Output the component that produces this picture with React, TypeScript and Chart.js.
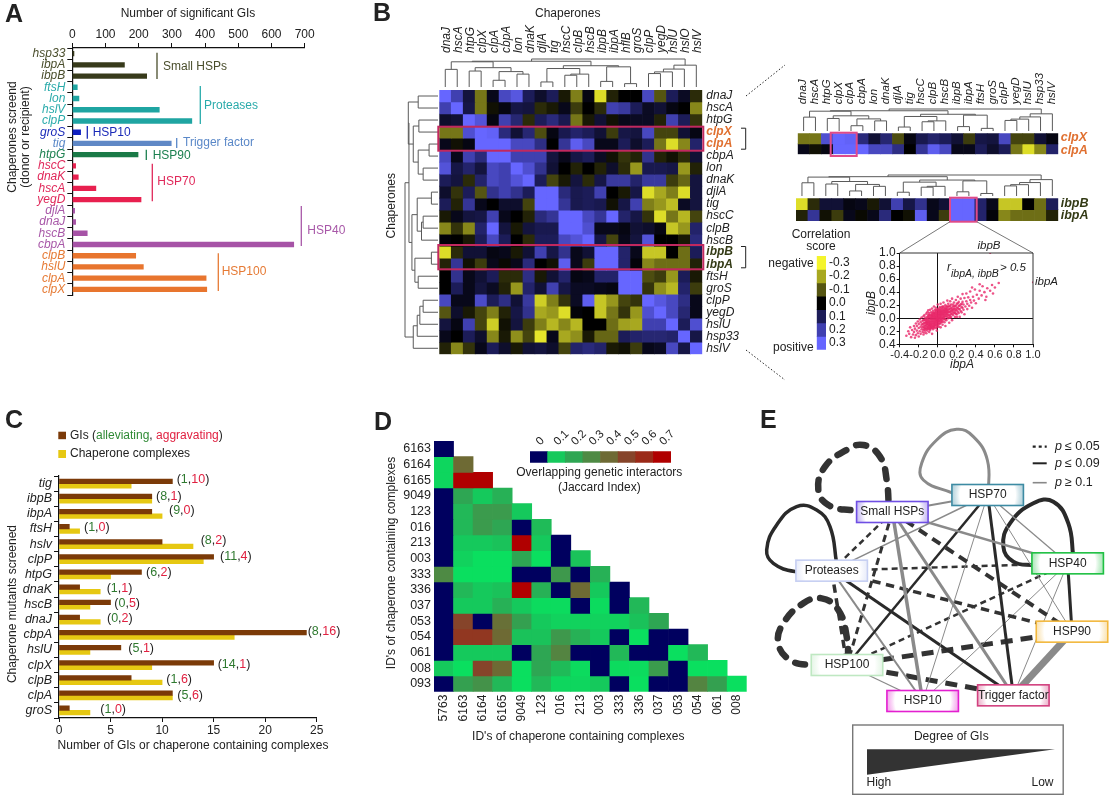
import { useEffect, useRef } from "react";
import { Chart, registerables } from "chart.js";

Chart.register(...registerables);

const SANS = '"Liberation Sans", Arial, sans-serif';
const INK = "#222222";
Chart.defaults.font.family = SANS;
Chart.defaults.color = INK;

/* ---------- Panel A ---------- */
const aGenes = ["hsp33","ibpA","ibpB","ftsH","lon","hslV","clpP","groS","tig","htpG","hscC","dnaK","hscA","yegD","djlA","dnaJ","hscB","cbpA","clpB","hslU","clpA","clpX"];
const aCounts = [5,157,224,15,20,262,360,25,298,198,10,18,71,207,7,10,45,667,191,214,403,405];
const aGeneFamily = [0,0,0,1,1,1,1,2,3,4,5,5,5,5,6,6,6,6,7,7,7,7];
const familyNames = ["Small HSPs","Proteases","HSP10","Trigger factor","HSP90","HSP70","HSP40","HSP100"];
const familyBars = ["#373a1b","#1fa5a2","#0f20c0","#5f88c6","#1a7a47","#e8204f","#a653a6","#e8752e"];
const familyTexts = ["#4a4e2c","#2aabab","#1a2ab8","#5a88c8","#1c8050","#e0285a","#a858a8","#e67a34"];

/* ---------- Panel B ---------- */
const bColLabels = ["dnaJ","hscA","htpG","clpX","clpA","cbpA","lon","dnaK","djlA","tig","hscC","clpB","hscB","ibpB","ibpA","hflB","groS","clpP","yegD","hslU","hslO","hslV"];
const bRowLabels = ["dnaJ","hscA","htpG","clpX","clpA","cbpA","lon","dnaK","djlA","tig","hscC","clpB","hscB","ibpB","ibpA","ftsH","groS","clpP","yegD","hslU","hsp33","hslV"];
const rDnaJ = [.3,.2,.07,-.14,.03,.22,.26,.1,.05,.1,-.03,-.15,.02,-.27,-.04,0,0,.22,-.1,.1,.04,-.05];
const rHscA = [.2,.3,.08,-.14,-.02,.02,.08,.07,-.05,-.03,.03,-.07,0,-.05,.2,.18,.1,.04,.06,.02,0,-.16];
const rHtpG = [.05,.06,.3,.25,.02,.2,.13,-.05,.1,.14,.09,-.14,-.03,.06,-.02,.03,.04,.04,-.04,.2,.1,-.06];
const rClpX = [-.14,-.14,.24,.3,.29,.14,.06,.13,-.09,.02,.09,.12,.1,.06,-.07,.08,.07,.22,-.08,-.08,.06,.02];
const rClpA = [.03,-.02,.02,.3,.3,.3,.22,.22,.15,0,.17,.28,.22,.03,.03,.1,.05,.1,-.14,-.27,-.16,.12];
const rCbpA = [.22,.03,.2,.14,.3,.3,.2,.2,.2,.07,.03,.08,.1,.04,-.02,-.06,-.04,.16,-.04,-.02,-.05,.06];
const rLon = [.25,.08,.12,.07,.22,.2,.3,.24,.16,.06,0,-.04,0,-.04,.05,-.05,-.18,.09,.09,.08,-.18,-.04];
const rDnaK = [.1,.07,-.05,.12,.22,.2,.25,.3,.1,-.08,-.03,.07,-.05,.08,.18,.18,.12,.18,.18,-.07,-.12,.07];
const rDjlA = [.05,-.06,.1,-.1,.16,.2,.16,.1,.3,.3,.14,.09,.1,.2,0,-.03,.08,-.27,-.2,-.15,-.27,.07];
const rTig = [.1,-.04,.17,.03,0,.05,.05,-.08,.3,.3,.17,.09,.1,.09,-.02,.08,.2,-.15,-.18,-.23,.04,.07];
const rHscC = [-.03,.03,.07,.08,.2,.03,0,-.04,.14,.17,.3,.3,.22,.17,.3,.12,.08,-.06,-.27,-.14,-.22,-.08];
const rClpB = [-.16,-.06,-.16,.12,.3,.07,-.03,.07,.09,.09,.3,.3,.24,.03,.03,.02,.06,.05,.02,-.24,-.18,.12];
const rHscB = [.01,0,-.03,.1,.22,.1,0,-.05,.1,.1,.22,.25,.3,.08,-.08,.03,.07,.25,0,0,-.03,.14];
const rIbpB = [-.27,-.05,.06,.06,.02,.03,-.03,.06,.2,.08,.16,.03,.06,.3,.3,.12,.03,-.24,-.24,0,-.13,.1];
const rIbpA = [-.04,.17,-.02,-.07,.03,-.01,.03,.14,0,-.02,.28,.03,-.07,.3,.3,.12,.01,-.16,-.13,-.13,-.13,-.04];
const rFtsH = [0,.16,.03,.06,.1,-.05,-.05,.15,-.03,.06,.12,.02,.03,.12,.12,.3,.3,-.09,-.07,-.18,.1,-.03];
const rGroS = [0,.1,.03,.07,.04,-.04,-.18,.12,.06,.2,.08,.04,.04,.03,.02,.3,.3,-.06,-.17,-.22,.12,-.07];
const rClpP = [.22,.03,.03,.23,.1,.15,.06,.18,-.25,-.15,-.06,.04,.28,-.24,-.18,-.08,-.06,.3,.26,.22,.15,.03];
const rYegD = [-.1,.05,-.03,-.08,-.15,-.04,.08,.16,-.2,-.18,-.27,.01,0,-.24,-.14,-.06,-.18,.24,.3,.22,.13,.03];
const rHslU = [.07,.02,.2,-.08,-.25,-.02,.07,-.07,-.15,-.22,-.16,-.22,0,0,-.13,-.19,-.2,.2,.2,.3,.1,.24];
const rHsp33 = [.03,0,.1,.05,-.16,-.03,-.17,-.08,-.28,.03,-.2,-.17,-.03,-.12,-.12,.1,.12,.13,.13,.12,.3,.08];
const rHslV = [-.04,-.16,-.06,.03,.1,.05,-.03,.06,.07,.05,-.08,.12,.14,.12,-.03,-.02,-.07,.03,.04,.22,.08,.3];
const bMatrix = [rDnaJ,rHscA,rHtpG,rClpX,rClpA,rCbpA,rLon,rDnaK,rDjlA,rTig,rHscC,rClpB,rHscB,rIbpB,rIbpA,rFtsH,rGroS,rClpP,rYegD,rHslU,rHsp33,rHslV];
const stripColLabels = bRowLabels;
const corrTicks = [-.3,-.2,-.1,0,.1,.2,.3];

/* merges: [child, child, height]; leaves are 0..21, each merge adds the next id */
const colTree = [[0,1,.63],[2,3,.57],[4,5,.24],[6,7,.46],[24,25,.55],[23,26,.69],[8,9,.18],[10,11,.42],[29,12,.46],[28,30,.66],[13,14,.2],[15,16,.12],[32,33,.72],[31,34,.76],[17,18,.48],[36,19,.54],[37,20,.64],[38,21,.78],[22,27,.9],[40,35,.92],[41,39,1]];
const rowTree = [[0,1,.6],[2,3,.58],[4,5,.27],[6,7,.45],[24,25,.6],[23,26,.75],[22,27,.9],[8,9,.2],[10,11,.45],[30,12,.5],[29,31,.63],[13,14,.2],[15,16,.6],[33,34,.7],[32,35,.79],[17,18,.45],[37,19,.55],[38,20,.63],[39,21,.75],[28,36,.88],[41,40,1]];

/* scatter of ibpA (x) against ibpB (y) */
const scatterCloud = [
[-.33,-.27],[-.31,-.2],[-.3,-.24],[-.28,-.29],[-.29,-.14],[-.27,-.18],[-.26,-.25],[-.25,-.12],[-.25,-.21],[-.24,-.3],[-.24,-.16],[-.23,-.08],[-.23,-.26],[-.22,-.19],[-.22,-.12],[-.21,-.23],[-.21,-.05],[-.2,-.15],[-.2,-.28],[-.2,-.09],
[-.19,-.2],[-.19,-.02],[-.18,-.24],[-.18,-.13],[-.18,-.06],[-.17,-.17],[-.17,.01],[-.17,-.1],[-.16,-.21],[-.16,-.04],[-.16,-.14],[-.15,-.25],[-.15,-.08],[-.15,.03],[-.15,-.18],[-.14,-.11],[-.14,-.22],[-.14,-.02],[-.14,.05],[-.14,-.15],
[-.13,-.07],[-.13,-.19],[-.13,.01],[-.13,-.12],[-.12,-.16],[-.12,-.04],[-.12,.07],[-.12,-.23],[-.12,-.09],[-.11,.02],[-.11,-.13],[-.11,-.06],[-.11,-.19],[-.11,.09],[-.1,-.01],[-.1,-.1],[-.1,-.16],[-.1,.05],[-.1,-.04],[-.1,.12],
[-.09,-.12],[-.09,-.07],[-.09,.02],[-.09,-.21],[-.09,.08],[-.08,-.14],[-.08,-.02],[-.08,-.09],[-.08,.05],[-.08,.13],[-.08,-.18],[-.07,-.05],[-.07,.01],[-.07,-.11],[-.07,.09],[-.07,-.15],[-.06,.03],[-.06,-.08],[-.06,-.02],[-.06,.15],
[-.06,-.24],[-.06,.07],[-.05,-.12],[-.05,-.05],[-.05,.01],[-.05,.11],[-.05,-.17],[-.04,-.08],[-.04,.04],[-.04,-.02],[-.04,.08],[-.04,.18],[-.04,-.13],[-.03,.01],[-.03,-.1],[-.03,.06],[-.03,-.05],[-.03,.13],[-.02,-.15],[-.02,-.02],
[-.02,.03],[-.02,.09],[-.02,-.07],[-.02,.16],[-.01,-.11],[-.01,.05],[-.01,0],[-.01,.12],[-.01,-.04],[-.01,-.19],[0,.02],[0,.08],[0,-.08],[0,-.03],[0,.14],[0,.21],[.01,-.13],[.01,.05],[.01,-.01],[.01,.1],
[.01,-.05],[.02,.17],[.02,.02],[.02,-.09],[.02,.07],[.02,.12],[.03,-.03],[.03,.04],[.03,.22],[.03,-.14],[.03,.09],[.04,.14],[.04,0],[.04,-.06],[.04,.06],[.04,.11],[.05,.18],[.05,.02],[.05,-.1],[.05,.08],
[.06,.13],[.06,-.02],[.06,.05],[.06,.24],[.07,.1],[.07,-.06],[.07,.16],[.07,.02],[.08,.07],[.08,.2],[.08,-.12],[.08,.12],[.09,.03],[.09,.15],[.09,.09],[.09,-.03],[.1,.27],[.1,.06],[.1,.18],[.1,.12],
[.11,0],[.11,.09],[.11,.22],[.12,.14],[.12,.04],[.12,-.07],[.12,.18],[.13,.1],[.13,.26],[.13,.01],[.14,.16],[.14,.07],[.14,.21],[.15,.12],[.15,-.03],[.15,.3],[.16,.18],[.16,.05],[.16,.1],[.17,.24],
[.17,.14],[.18,.02],[.18,.19],[.18,.08],[.19,.28],[.19,.13],[.2,.22],[.2,.06],[.2,.16],[.21,.33],[.21,.1],[.22,.19],[.22,.25],[.23,.02],[.23,.14],[.24,.3],[.24,.21],[.25,.09],[.25,.17],[.26,.37],
[.26,.25],[.27,.13],[.27,.21],[.28,.31],[.28,.06],[.29,.18],[.3,.26],[.3,.38],[.31,.14],[.31,.22],[.32,.32],[.33,.19],[.34,.28],[.34,.41],[.35,.24],[.36,.16],[.37,.33],[.38,.27],[.39,.44],[.4,.23],
[.41,.36],[.43,.3],[.44,.42],[.46,.35],[.47,.49],[.49,.4],[.51,.33],[.52,.46],[.55,.42],[.57,.51],[.6,.47],[.64,.54],[.44,.52],[.36,.47],[.5,.28],[.58,.38]
];
const scatterCore = [
[-.16,-.09],[-.15,-.13],[-.15,-.03],[-.14,-.07],[-.14,-.17],[-.13,-.03],[-.13,-.15],[-.12,-.11],[-.12,-.01],[-.12,-.06],[-.11,-.09],[-.11,-.16],[-.11,-.02],[-.1,-.07],[-.1,-.13],[-.1,.02],[-.09,-.04],[-.09,-.1],[-.09,-.16],[-.09,.05],
[-.08,-.06],[-.08,-.11],[-.08,.01],[-.08,-.16],[-.07,-.08],[-.07,-.02],[-.07,.04],[-.07,-.13],[-.06,-.05],[-.06,-.11],[-.06,.01],[-.06,.05],[-.06,-.15],[-.05,-.08],[-.05,-.02],[-.05,.04],[-.05,-.14],[-.05,.08],[-.04,-.05],[-.04,-.1],
[-.04,.01],[-.04,.06],[-.04,-.15],[-.03,-.07],[-.03,-.02],[-.03,.03],[-.03,.09],[-.03,-.12],[-.02,-.04],[-.02,.01],[-.02,.06],[-.02,-.1],[-.02,.12],[-.01,-.07],[-.01,-.02],[-.01,.03],[-.01,.08],[-.01,-.14],[0,0],[0,.05],
[0,-.05],[0,.11],[0,-.11],[.01,.02],[.01,.07],[.01,-.03],[.01,.13],[.01,-.08],[.02,0],[.02,.05],[.02,.1],[.02,-.05],[.02,.15],[.03,.02],[.03,.07],[.03,-.01],[.03,.12],[.03,-.07],[.04,.04],[.04,.09],
[.04,-.03],[.04,.17],[.05,.06],[.05,.11],[.05,0],[.05,.15],[.05,-.05],[.06,.08],[.06,.02],[.06,.11],[.06,.18],[.07,.05],[.07,.13],[.07,-.01],[.07,.08],[.08,.1],[.08,.03],[.08,.15],[.08,-.02],[.09,.12],
[.09,.06],[.09,.18],[.1,.09],[.1,.02],[.1,.15],[.11,.12],[.11,.05],[.11,.18],[.12,.09],[.12,.01],[.13,.14],[.13,.05],[.13,.19],[.14,.11],[.14,.02],[.15,.15],[.15,.07],[.16,.13],[.16,.21],[.17,.08],
[.17,.18],[.18,.11],[.18,.15],[.19,.07],[.19,.19],[.2,.12],[.2,.02],[.21,.16],[.21,.23],[.22,.08],[.22,.14],[.23,.19],[.24,.11],[.25,.22],[.26,.16]
];
const scatterOutliers = [[.55,1],[1,.55]];

/* ---------- Panel C ---------- */
const cGenes = ["tig","ibpB","ibpA","ftsH","hslv","clpP","htpG","dnaK","hscB","dnaJ","cbpA","hslU","clpX","clpB","clpA","groS"];
const cGIs = [11,9,9,1,10,15,8,2,5,2,24,6,15,7,11,1];
const cComplexes = [7,9,10,2,13,14,5,4,3,4,17,3,9,10,11,3];
const cAlleviating = [1,8,9,1,8,11,6,1,0,0,8,5,14,1,5,1];
const cAggravating = [10,1,0,0,2,4,2,1,5,2,16,1,1,6,6,0];

/* ---------- Panel D ---------- */
const dCols = ["5763","6163","6164","6165","9049","123","016","213","003","333","336","037","053","054","061","008"];
const dRows = ["6163","6164","6165","9049","123","016","213","003","333","336","037","053","054","061","008","093"];
const dTriangle = [
  [0],
  [.07,.4],
  [.07,.7,.7],
  [0,.2,.1,.17],
  [0,.15,.24,.24,.1],
  [0,.15,.24,.2,0,.14],
  [0,.1,.1,.12,.7,.1,0],
  [0,.08,.05,.05,.2,.05,0,.12],
  [.3,.05,.05,.05,0,0,.25,0,.17],
  [0,.15,.1,.12,.7,.17,0,.4,.1,0],
  [0,.1,.1,.17,.1,.06,.06,0,.06,0,.15],
  [0,.5,0,.38,.22,.1,.08,.08,.08,.08,.12,.2],
  [0,.55,.55,.4,.12,.12,.25,.17,.1,0,.05,0,0],
  [0,.1,.1,.1,0,.2,.32,0,0,.15,0,0,.05,.15],
  [.1,.05,.5,.4,.05,.2,.14,.06,0,.06,.06,.24,0,.05,.05],
  [0,.22,.27,.15,.05,.15,.07,.07,.1,0,.05,0,0,.32,.22,.05],
];
const jaccardTicks = [0,.1,.2,.3,.4,.5,.6,.7];

/* ---------- Panel E ---------- */
const eNodeNames = ["HSP70","Small HSPs","Proteases","HSP40","HSP90","HSP100","HSP10","Trigger factor"];
const eNodeX = [743,457,275,983,996,321,548,820];
const eNodeY = [255,306,482,460,665,765,873,856];
const eNodeEdge = ["#3d8ba3","#6f4fe3","#c6cff2","#1fc043","#f2b83e","#bfe8c2","#e31fd0","#d2417f"];
/* from, to, significance class (0: p<=.05, 1: p<=.09, 2: p>=.1), weight */
const eLinks = [
  [1,0,2,2],[1,2,0,2.5],[1,5,0,3],[1,6,2,3.5],[1,7,2,3],[1,4,0,4],[1,3,2,2.5],
  [0,2,2,1.5],[0,5,1,2.5],[0,6,2,1],[0,7,1,3],[0,3,2,1.3],[0,4,2,1],
  [2,3,0,2.5],[2,4,0,3.5],[2,5,0,3.5],[2,6,2,2],[2,7,1,3],
  [3,5,0,2.5],[3,4,1,3],[3,6,2,1],[3,7,2,1],
  [4,7,2,7],[4,5,0,5],[5,6,2,1.3],[5,7,0,5],
];
const eLoopSmall = [[457,306],[330,300],[265,285],[235,240],[255,170],[320,120],[370,105],[420,140],[440,210],[447,306]];
const eLoopHsp70 = [[745,255],[742,150],[700,80],[650,58],[590,90],[545,160],[550,210],[640,250]];
const eLoopProteases = [[275,490],[167,485],[100,460],[80,420],[110,345],[170,290],[230,300],[270,350],[290,460]];
const eLoopHsp40 = [[983,465],[876,465],[820,455],[790,410],[810,340],[880,280],[940,275],[985,340],[1000,440]];
const eLoopHsp100 = [[321,768],[213,765],[150,750],[115,700],[130,640],[190,580],[245,565],[295,600],[320,680],[325,765]];

/* ---------- colour helpers ---------- */
const hex = (h: string) => [1, 3, 5].map((i) => parseInt(h.slice(i, i + 2), 16));
function ramp(stops: [number, string][], v: number) {
  if (v <= stops[0][0]) return stops[0][1];
  for (let i = 1; i < stops.length; i++) {
    if (v <= stops[i][0]) {
      const [a, ca] = stops[i - 1];
      const [b, cb] = stops[i];
      const t = (v - a) / (b - a);
      const A = hex(ca), B = hex(cb);
      return `rgb(${A.map((c, k) => Math.round(c + (B[k] - c) * t)).join(",")})`;
    }
  }
  return stops[stops.length - 1][1];
}
const corrStops: [number, string][] = [[-.3,"#f4f42c"],[-.2,"#a8a820"],[-.1,"#555512"],[0,"#000000"],[.1,"#1c1c58"],[.2,"#4040b0"],[.3,"#6666ff"]];
const corrColor = (v: number) => ramp(corrStops, v);
const jacStops: [number, string][] = [[.05,"#0adf5f"],[.1,"#15c95c"],[.2,"#2ea653"],[.3,"#4e8a44"],[.4,"#6e6a34"],[.5,"#86442a"],[.6,"#9b2a18"],[.7,"#b00000"]];
const jacColor = (v: number) => (v === 0 ? "#00005f" : ramp(jacStops, v));

/* ---------- drawing helpers ---------- */
function txt(ctx: any, s: string, x: number, y: number, o: any = {}) {
  ctx.save();
  ctx.font = `${o.style || ""} ${o.weight || ""} ${o.size || 12}px ${SANS}`;
  ctx.fillStyle = o.color || INK;
  ctx.textAlign = o.align || "left";
  ctx.textBaseline = "middle";
  ctx.translate(x, y);
  if (o.rot) ctx.rotate(o.rot);
  ctx.fillText(s, 0, 0);
  ctx.restore();
}
function path(ctx: any, pts: number[][], color: string, w = 1, dash: number[] = []) {
  ctx.save();
  ctx.strokeStyle = color;
  ctx.lineWidth = w;
  ctx.setLineDash(dash);
  ctx.beginPath();
  pts.forEach((p, i) => (i ? ctx.lineTo(p[0], p[1]) : ctx.moveTo(p[0], p[1])));
  ctx.stroke();
  ctx.restore();
}
function dendro(ctx: any, merges: number[][], leaf: (i: number) => number, hgt: (h: number) => number, horizontalLeaves: boolean) {
  const pos: number[] = [];
  const hs: number[] = [];
  for (let i = 0; i < 22; i++) { pos[i] = leaf(i); hs[i] = 0; }
  merges.forEach((m, k) => {
    const [a, b, h] = m;
    const pts = [[pos[a], hgt(hs[a])], [pos[a], hgt(h)], [pos[b], hgt(h)], [pos[b], hgt(hs[b])]];
    path(ctx, horizontalLeaves ? pts : pts.map((p) => [p[1], p[0]]), "#5a5a5a", 1);
    pos[22 + k] = (pos[a] + pos[b]) / 2;
    hs[22 + k] = h;
  });
}
const letter = (ctx: any, s: string, x: number, y: number) => txt(ctx, s, x, y, { size: 25, weight: "bold", color: "#222" });
const PINK = "#c2285f";

const notes = (left: number, top: number, fn: (ctx: any, chart: any) => void) => ({
  id: "notes",
  afterDraw(chart: any) {
    const ctx = chart.ctx;
    ctx.save();
    ctx.translate(-left, -top);
    fn(ctx, chart);
    ctx.restore();
  },
});

const baseOptions = {
  responsive: false,
  animation: false,
  plugins: { legend: { display: false }, tooltip: { enabled: false } },
};

/* A heat map: each cell is a floating bar from row-0.5 to row+0.5 */
function heat(o: any) {
  const n = o.rows.length;
  const { l, t, r, b, w, h } = o.frame;
  return {
    type: "bar",
    data: {
      labels: o.cols,
      datasets: o.values.map((row: (number | null)[], ri: number) => ({
        label: o.rows[ri],
        data: o.cols.map((_: string, ci: number) => (row[ci] == null ? null : [ri - 0.5, ri + 0.5])),
        backgroundColor: o.cols.map((_: string, ci: number) => (row[ci] == null ? "transparent" : o.color(row[ci]))),
        borderWidth: 0,
        grouped: false,
        barPercentage: 1,
        categoryPercentage: 1,
      })),
    },
    options: {
      ...baseOptions,
      layout: {
        padding: {
          left: o.yPos === "left" ? 0 : l,
          right: o.yPos === "right" ? 0 : w - r,
          top: o.xPos === "top" ? 0 : t,
          bottom: o.xPos === "bottom" ? 0 : h - b,
        },
      },
      scales: {
        x: {
          type: "category",
          display: !!o.xPos,
          position: o.xPos || "bottom",
          grid: { display: false, drawTicks: false },
          border: { display: false },
          afterFit: (s: any) => { if (o.xPos) s.height = o.xPos === "top" ? t : h - b; },
          ticks: {
            autoSkip: false,
            minRotation: o.xRot ?? 90,
            maxRotation: o.xRot ?? 90,
            padding: o.xPad ?? 3,
            labelOffset: o.xOff ?? 0,
            font: { size: o.xSize || 12, style: o.xStyle || "normal" },
            color: INK,
          },
        },
        y: {
          type: "linear",
          display: !!o.yPos,
          position: o.yPos || "left",
          min: -0.5,
          max: n - 0.5,
          reverse: true,
          bounds: "data",
          grid: { display: false, drawTicks: false },
          border: { display: false },
          afterBuildTicks: (s: any) => { s.ticks = o.rows.map((_: string, i: number) => ({ value: i })); },
          afterFit: (s: any) => { if (o.yPos) s.width = o.yPos === "left" ? l : w - r; },
          ticks: {
            autoSkip: false,
            padding: o.yPad ?? 3,
            callback: (v: number) => o.rows[v],
            font: o.yFont || { size: 12 },
            color: o.yColor || INK,
          },
        },
      },
    },
  };
}

/* ---------- chart configs ---------- */
function configA() {
  const l = 72.3, t = 48, r = 304.7, b = 295, w = 370, h = 310;
  const brackets: [number, number, number, number, number, number][] = [
    [0,157,52.7,79,163,66.7],[1,200.3,86,124,204,105.7],[2,87.3,126,138.7,92.7,132.7],[3,176.7,138,148,183,142.7],
    [4,146.3,149.7,160,152.7,155.3],[5,152.3,163.7,201.3,157.3,182],[6,301.3,206,246,307.3,231],[7,218.3,253.3,291,221.7,271.7],
  ];
  return {
    type: "bar",
    data: {
      labels: aGenes,
      datasets: [{ label: "Number of significant GIs", data: aCounts, backgroundColor: aGeneFamily.map((f) => familyBars[f]), barThickness: 4.7 }],
    },
    options: {
      ...baseOptions,
      indexAxis: "y",
      layout: { padding: { right: w - r, bottom: h - b } },
      scales: {
        x: {
          position: "top", min: 0, max: 700,
          afterFit: (s: any) => { s.height = t; },
          grid: { drawOnChartArea: false, tickLength: 5, color: "#111" },
          border: { color: "#111", width: 1.2 },
          ticks: { stepSize: 100, padding: 1, maxRotation: 0, font: { size: 12 }, color: INK },
        },
        y: {
          afterFit: (s: any) => { s.width = l; },
          grid: { drawOnChartArea: false, tickLength: 5, color: "#111", offset: true },
          border: { color: "#111", width: 1.2 },
          ticks: {
            autoSkip: false, padding: 2,
            font: { size: 12, style: "italic" },
            color: (c: any) => familyTexts[aGeneFamily[c.index]],
          },
        },
      },
    },
    plugins: [notes(0, 0, (ctx) => {
      letter(ctx, "A", 5, 15);
      txt(ctx, "Number of significant GIs", 188, 14, { align: "center" });
      txt(ctx, "Chaperones screend", 13, 137, { align: "center", rot: -Math.PI / 2 });
      txt(ctx, "(donor or recipient)", 26, 137, { align: "center", rot: -Math.PI / 2 });
      brackets.forEach(([f, x, y0, y1, tx, ty]) => {
        path(ctx, [[x, y0], [x, y1]], familyTexts[f], 1.3);
        txt(ctx, familyNames[f], tx, ty, { color: familyTexts[f] });
      });
    })],
  };
}

function configB() {
  const cfg: any = heat({
    frame: { l: 69.3, t: 90, r: 332.3, b: 354.3, w: 430, h: 385 },
    values: bMatrix, rows: bRowLabels, cols: bColLabels, color: corrColor,
    xPos: "top", xPad: 37, xOff: 16, xStyle: "italic",
  });
  cfg.options.scales.y.display = true;
  cfg.options.scales.y.position = "right";
  cfg.options.scales.y.afterFit = (s: any) => { s.width = 60; };
  cfg.options.layout.padding.right = 430 - 332.3 - 60;
  cfg.options.layout.padding.left = 69.3;
  cfg.options.scales.y.ticks.padding = 4;
  cfg.options.scales.y.ticks.color = (c: any) => {
    const name = bRowLabels[c.tick.value];
    return name === "clpX" || name === "clpA" ? "#e07030" : name === "ibpB" || name === "ibpA" ? "#333a15" : INK;
  };
  cfg.options.scales.y.ticks.font = (c: any) => {
    const name = bRowLabels[c.tick?.value];
    const bold = name === "clpX" || name === "clpA" || name === "ibpB" || name === "ibpA";
    return { size: 12, style: "italic", weight: bold ? "bold" : "normal" };
  };
  cfg.plugins = [notes(370, 0, (ctx, chart) => {
    letter(ctx, "B", 373, 14);
    txt(ctx, "Chaperones", 567.7, 13.7, { align: "center" });
    txt(ctx, "Chaperones", 391.7, 205.7, { align: "center", rot: -Math.PI / 2 });
    dendro(ctx, colTree, (i) => chart.scales.x.getPixelForValue(i) + 370, (v) => 87 - 28 * v, true);
    dendro(ctx, rowTree, (i) => chart.scales.y.getPixelForValue(i), (v) => 438 - 33 * v, false);
    [[126.7, 150.7], [245, 269.3]].forEach(([a, z]) => {
      ctx.strokeStyle = PINK; ctx.lineWidth = 2; ctx.strokeRect(438.3, a, 265, z - a);
      path(ctx, [[741, a + 1.5], [745.7, a + 1.5], [745.7, z - 1.5], [741, z - 1.5]], "#222", 1);
    });
    path(ctx, [[746, 96], [785, 65]], "#222", 1, [1.5, 2]);
    path(ctx, [[746, 350], [785, 380]], "#222", 1, [1.5, 2]);
  })];
  return cfg;
}

const stripFont = { size: 12.5, style: "italic", weight: "bold" };
function configStrip1() {
  const cfg: any = heat({
    frame: { l: 36, t: 73.3, r: 298.3, b: 94.3, w: 353, h: 100 },
    values: [rClpX, rClpA], rows: ["clpX", "clpA"], cols: stripColLabels, color: corrColor,
    xPos: "top", xPad: 29, xOff: 13, xStyle: "italic", xSize: 11.5,
  });
  cfg.plugins = [notes(760, 60, (ctx, chart) => {
    dendro(ctx, colTree, (i) => chart.scales.x.getPixelForValue(i) + 760, (v) => 131 - 22 * v, true);
    ctx.strokeStyle = "#e04a88"; ctx.lineWidth = 2; ctx.strokeRect(830.7, 132.7, 26, 23.3);
    txt(ctx, "clpX", 1060.7, 137.7, { ...stripFont, color: "#e07030" });
    txt(ctx, "clpA", 1060.7, 151, { ...stripFont, color: "#e07030" });
  })];
  return cfg;
}
function configStrip2() {
  const cfg: any = heat({
    frame: { l: 36, t: 28.3, r: 298.3, b: 51, w: 353, h: 90 },
    values: [rIbpB, rIbpA], rows: ["ibpB", "ibpA"], cols: stripColLabels, color: corrColor,
  });
  cfg.plugins = [notes(760, 170, (ctx, chart) => {
    dendro(ctx, colTree, (i) => chart.scales.x.getPixelForValue(i) + 760, (v) => 196 - 21 * v, true);
    ctx.strokeStyle = "#e04a88"; ctx.lineWidth = 2; ctx.strokeRect(950, 197.7, 26.7, 24);
    path(ctx, [[950, 221.7], [899.7, 253]], "#777", 1);
    path(ctx, [[976.7, 221.7], [1033, 253]], "#777", 1);
    txt(ctx, "ibpB", 1060.7, 204, { ...stripFont, color: "#333a15" });
    txt(ctx, "ibpA", 1060.7, 216, { ...stripFont, color: "#333a15" });
  })];
  return cfg;
}
function configCorrBar() {
  const cfg: any = heat({
    frame: { l: 56.7, t: 31, r: 66, b: 127.7, w: 110, h: 135 },
    values: corrTicks.map((v) => [v]), rows: corrTicks.map((v) => v.toFixed(1)), cols: ["score"], color: corrColor,
    yPos: "right", yFont: { size: 12 },
  });
  cfg.plugins = [notes(760, 225, (ctx) => {
    txt(ctx, "Correlation", 821, 234.3, { align: "center" });
    txt(ctx, "score", 821, 247, { align: "center" });
    txt(ctx, "negative", 813.7, 263.3, { align: "right" });
    txt(ctx, "positive", 813.7, 347.7, { align: "right" });
  })];
  return cfg;
}
function configScatter() {
  const w = 253, h = 140, l = 39.7, t = 18, r = 173, b = 109.3;
  const toPt = ([x, y]: number[]) => ({ x, y });
  const axisLine = (c: any) => (Math.abs(c.tick.value) < 1e-9 ? "#111" : "transparent");
  const fmt = (v: number) => (Math.abs(v) < 1e-9 ? "0.0" : v.toFixed(1));
  return {
    type: "scatter",
    data: {
      datasets: [
        { label: "genes", data: [...scatterCloud, ...scatterCore].map(toPt), pointRadius: 1.3, pointBorderWidth: 0, backgroundColor: "rgba(232,40,106,0.8)" },
        { label: "ibpA, ibpB", data: scatterOutliers.map(toPt), pointRadius: 1.1, pointBorderWidth: 0, backgroundColor: "rgba(232,40,106,0.9)" },
      ],
    },
    options: {
      ...baseOptions,
      layout: { padding: { top: t, right: w - r } },
      scales: {
        x: {
          type: "linear", min: -0.4, max: 1,
          afterFit: (s: any) => { s.height = h - b; },
          grid: { color: axisLine, tickColor: "#111", tickLength: 3, lineWidth: 1 },
          border: { color: "#111" },
          ticks: { stepSize: 0.2, autoSkip: false, maxRotation: 0, padding: 1, callback: (v: number) => fmt(v), font: { size: 11 }, color: INK },
        },
        y: {
          type: "linear", min: -0.4, max: 1,
          afterFit: (s: any) => { s.width = l; },
          grid: { color: axisLine, tickColor: "#111", tickLength: 3, lineWidth: 1 },
          border: { color: "#111" },
          ticks: { stepSize: 0.2, autoSkip: false, padding: 1, callback: (v: number) => fmt(Math.abs(v)), font: { size: 12 }, color: INK },
        },
      },
    },
    plugins: [notes(860, 235, (ctx) => {
      path(ctx, [[899.7, 253], [1033, 253], [1033, 344.3]], "#333", 1);
      txt(ctx, "ibpB", 989, 245.7, { style: "italic", align: "center", size: 11.5 });
      txt(ctx, "ibpA", 1035, 281.7, { style: "italic", size: 11.5 });
      txt(ctx, "r", 947, 268, { style: "italic", size: 12 });
      txt(ctx, "ibpA, ibpB", 951, 274, { style: "italic", size: 10.5 });
      txt(ctx, "> 0.5", 1000, 268, { style: "italic", size: 11.5 });
      txt(ctx, "ibpA", 962, 365, { style: "italic", align: "center", size: 12 });
      txt(ctx, "ibpB", 871.7, 303, { style: "italic", align: "center", size: 12, rot: -Math.PI / 2 });
    })],
  };
}

function configC() {
  const w = 370, h = 370, l = 59, r = 316.7, t = 76, b = 318;
  const tallyX = [176.7,156,169,84,200.7,220,146,106.7,114.3,107,307.7,128.3,217.7,166.3,177.3,100.3];
  const tallyY = [480,496.7,511,527.3,541,556.7,572.7,588.3,603.7,618.7,631.7,648.3,664.7,680,696,709.3];
  return {
    type: "bar",
    data: {
      labels: cGenes,
      datasets: [
        { label: "GIs", data: cGIs, backgroundColor: "#7b3a08", barThickness: 4.6 },
        { label: "Chaperone complexes", data: cComplexes, backgroundColor: "#e6c812", barThickness: 4.6 },
      ],
    },
    options: {
      ...baseOptions,
      indexAxis: "y",
      layout: { padding: { top: t, right: w - r } },
      scales: {
        x: {
          min: 0, max: 25,
          afterFit: (s: any) => { s.height = h - b; },
          grid: { drawOnChartArea: false, tickLength: 4, color: "#111" },
          border: { color: "#111", width: 1.2 },
          ticks: { stepSize: 5, maxRotation: 0, padding: 1, font: { size: 12 }, color: INK },
        },
        y: {
          afterFit: (s: any) => { s.width = l; },
          grid: { drawOnChartArea: false, tickLength: 5, color: "#111", offset: true },
          border: { color: "#111", width: 1.2 },
          ticks: { autoSkip: false, padding: 2, font: { size: 12.5, style: "italic" }, color: INK },
        },
      },
    },
    plugins: [notes(0, 400, (ctx) => {
      letter(ctx, "C", 5, 421);
      txt(ctx, "Chaperone mutants screened", 13, 604, { align: "center", rot: -Math.PI / 2 });
      txt(ctx, "Number of GIs or chaperone containing complexes", 193, 745.7, { align: "center" });
      ctx.fillStyle = "#7b3a08"; ctx.fillRect(58.3, 431.7, 7.7, 7.5);
      ctx.fillStyle = "#e6c812"; ctx.fillRect(58.3, 450, 7.7, 8);
      const parts = [["GIs (", INK], ["alleviating", "#2f8a35"], [", ", INK], ["aggravating", "#e02040"], [")", INK]];
      ctx.font = `12px ${SANS}`;
      let px = 70;
      parts.forEach(([s, c]) => { txt(ctx, s, px, 436, { color: c }); px += ctx.measureText(s).width; });
      txt(ctx, "Chaperone complexes", 70, 454);
      cGenes.forEach((_, i) => {
        const seq = [["(", INK], [String(cAlleviating[i]), "#2f7a30"], [",", INK], [String(cAggravating[i]), "#e02040"], [")", INK]];
        ctx.font = `12.5px ${SANS}`;
        let x = tallyX[i];
        seq.forEach(([s, c]) => { txt(ctx, s, x, tallyY[i], { color: c, size: 12.5 }); x += ctx.measureText(s).width; });
      });
    })],
  };
}

function configD() {
  const cfg: any = heat({
    frame: { l: 64, t: 31, r: 376.7, b: 281.7, w: 390, h: 340 },
    values: dTriangle, rows: dRows, cols: dCols, color: jacColor,
    xPos: "bottom", yPos: "left", xPad: 3, yPad: 3, yFont: { size: 12.5 }, xSize: 12,
  });
  cfg.plugins = [notes(370, 410, (ctx) => {
    letter(ctx, "D", 374, 423);
    txt(ctx, "ID's of chaperone containing complexes", 578.3, 736.7, { align: "center" });
    txt(ctx, "ID's of chaperone containing complexes", 391.7, 563, { align: "center", rot: -Math.PI / 2 });
  })];
  return cfg;
}
function configJaccardBar() {
  const cfg: any = heat({
    frame: { l: 20, t: 41.3, r: 161, b: 52.7, w: 200, h: 90 },
    values: [jaccardTicks], rows: ["Jaccard Index"], cols: jaccardTicks.map(String), color: jacColor,
    xPos: "top", xRot: 45, xPad: 3, xOff: 9, xSize: 11.5,
  });
  cfg.plugins = [notes(510, 410, (ctx) => {
    txt(ctx, "Overlapping genetic interactors", 599.3, 473, { align: "center" });
    txt(ctx, "(Jaccard Index)", 599.3, 487.7, { align: "center" });
  })];
  return cfg;
}

function configE() {
  const kindColor = ["#333333", "#2a2a2a", "#8a8a8a"];
  const asPts = (a: number[][]) => a.map(([x, y]) => ({ x, y }));
  const linkSets = eLinks.map(([a, b, kind, weight]) => ({
    label: `${eNodeNames[a]} - ${eNodeNames[b]}`,
    data: [{ x: eNodeX[a], y: eNodeY[a] }, { x: eNodeX[b], y: eNodeY[b] }],
    showLine: true, pointRadius: 0,
    borderColor: kindColor[kind], borderWidth: weight,
    borderDash: kind === 0 ? [weight * 2.4, weight * 1.6] : [],
  }));
  const loop = (name: string, pts: number[][], kind: number, weight: number) => ({
    label: name, data: asPts(pts), showLine: true, pointRadius: 0, tension: 0.45,
    borderColor: kindColor[kind], borderWidth: weight,
    borderDash: kind === 0 ? [10, 11] : [], borderCapStyle: "round",
  });
  return {
    type: "scatter",
    data: {
      datasets: [
        ...linkSets,
        loop("Small HSPs", eLoopSmall, 0, 6.5),
        loop("HSP70", eLoopHsp70, 2, 3),
        loop("Proteases", eLoopProteases, 1, 3.5),
        loop("HSP40", eLoopHsp40, 1, 4),
        loop("HSP100", eLoopHsp100, 0, 6.5),
      ],
    },
    options: {
      ...baseOptions,
      scales: {
        x: { type: "linear", display: false, min: 0, max: 1119 },
        y: { type: "linear", display: false, min: 0, max: 1170, reverse: true },
      },
    },
    plugins: [notes(740, 410, (ctx, chart) => {
      const X = (v: number) => chart.scales.x.getPixelForValue(v) + 740;
      const Y = (v: number) => chart.scales.y.getPixelForValue(v) + 410;
      letter(ctx, "E", 760, 421);
      eNodeNames.forEach((name, i) => {
        const cx = X(eNodeX[i]), cy = Y(eNodeY[i]);
        const bw = 71.5, bh = 21;
        const g = ctx.createRadialGradient(cx, cy, 8, cx, cy, 44);
        g.addColorStop(0, "#ffffff");
        g.addColorStop(0.55, "#ffffff");
        g.addColorStop(1, eNodeEdge[i] + "88");
        ctx.fillStyle = "#ffffff";
        ctx.fillRect(cx - bw / 2, cy - bh / 2, bw, bh);
        ctx.fillStyle = g;
        ctx.fillRect(cx - bw / 2, cy - bh / 2, bw, bh);
        ctx.strokeStyle = eNodeEdge[i];
        ctx.lineWidth = 1.6;
        ctx.strokeRect(cx - bw / 2, cy - bh / 2, bw, bh);
        txt(ctx, name, cx, cy, { align: "center", size: 12 });
      });
      const legendRows: [string, string, number, number[]][] = [
        ["\u2264 0.05", "#222", 2.2, [3, 3]],
        ["\u2264 0.09", "#222", 2, []],
        ["\u2265 0.1", "#888", 1.6, []],
      ];
      [446.7, 463.3, 482.7].forEach((y, i) => {
        const [s, c, lw, d] = legendRows[i];
        path(ctx, [[1032.7, y], [1046.7, y]], c, lw, d);
        txt(ctx, "p", 1055, y, { style: "italic", size: 12.5 });
        txt(ctx, s, 1065, y, { size: 12.5 });
      });
      ctx.strokeStyle = "#777"; ctx.lineWidth = 1.4; ctx.strokeRect(852.7, 725, 210.5, 69.3);
      txt(ctx, "Degree of GIs", 951.3, 736.7, { align: "center" });
      ctx.fillStyle = "#333";
      ctx.beginPath(); ctx.moveTo(867, 749.3); ctx.lineTo(1055, 749.3); ctx.lineTo(867, 774.7); ctx.closePath(); ctx.fill();
      txt(ctx, "High", 866.5, 782.5);
      txt(ctx, "Low", 1053.5, 782.5, { align: "right" });
    })],
  };
}

/* ---------- React ---------- */
function Panel({ left, top, w, h, build }: any) {
  const ref = useRef<HTMLCanvasElement | null>(null);
  useEffect(() => {
    const chart = new Chart(ref.current as any, build());
    return () => chart.destroy();
  }, []);
  return <canvas ref={ref} width={w} height={h} style={{ position: "absolute", left, top, width: w, height: h }} />;
}

export default function App() {
  return (
    <div style={{ position: "absolute", left: 0, top: 0, width: 1113, height: 800, background: "#fff", overflow: "hidden", filter: "blur(0.35px)" }}>
      <Panel left={0} top={0} w={370} h={310} build={configA} />
      <Panel left={370} top={0} w={430} h={385} build={configB} />
      <Panel left={760} top={60} w={353} h={100} build={configStrip1} />
      <Panel left={760} top={170} w={353} h={90} build={configStrip2} />
      <Panel left={760} top={225} w={110} h={135} build={configCorrBar} />
      <Panel left={860} top={235} w={253} h={140} build={configScatter} />
      <Panel left={0} top={400} w={370} h={370} build={configC} />
      <Panel left={370} top={410} w={390} h={340} build={configD} />
      <Panel left={510} top={410} w={200} h={90} build={configJaccardBar} />
      <Panel left={740} top={410} w={373} h={390} build={configE} />
    </div>
  );
}
